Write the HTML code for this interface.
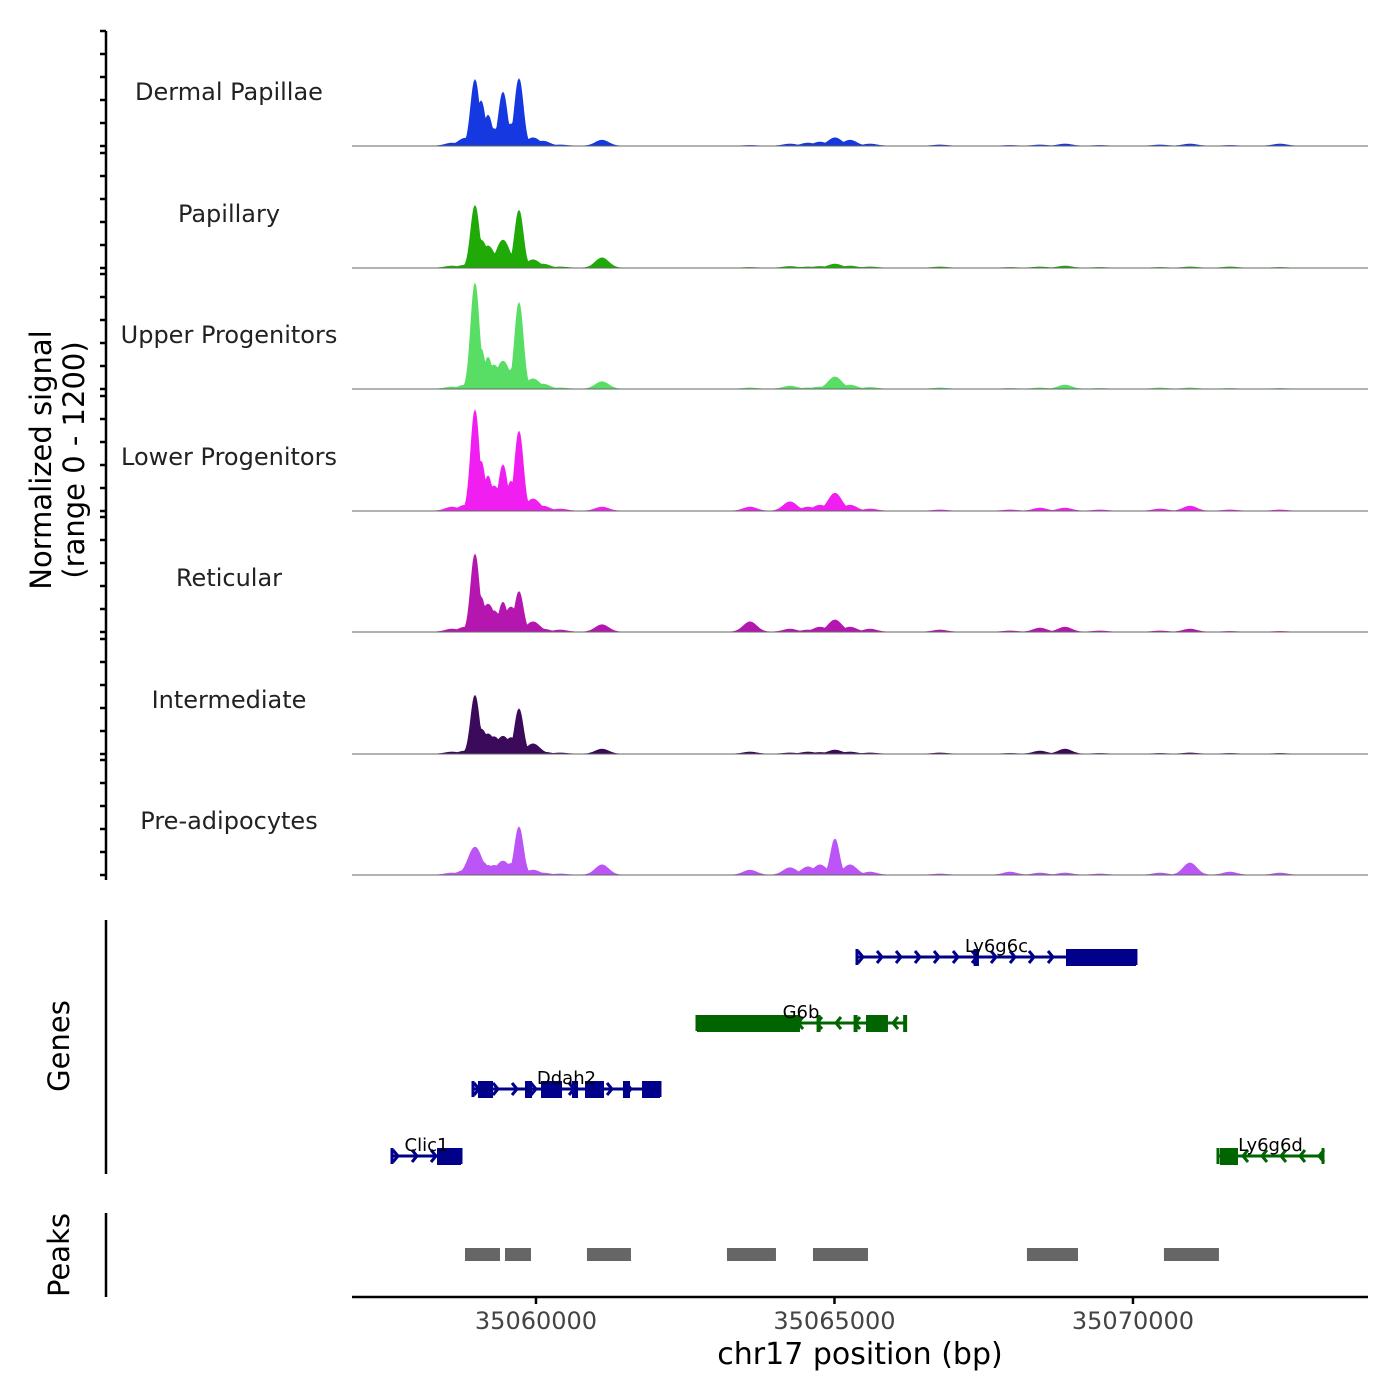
<!DOCTYPE html>
<html><head><meta charset="utf-8"><style>
html,body{margin:0;padding:0;background:#fff}
svg{display:block;font-family:"DejaVu Sans","Liberation Sans",sans-serif}
</style></head><body>
<svg id="chart" width="1400" height="1400" viewBox="0 0 1400 1400" xmlns="http://www.w3.org/2000/svg"></svg>
<script>
// ---------- data ----------
const trackNames = ["Dermal Papillae","Papillary","Upper Progenitors","Lower Progenitors","Reticular","Intermediate","Pre-adipocytes"];
const trackColors = ["#1538e0","#1faa08","#58de64","#f01ef0","#b516b0","#3b0a5a","#bb55f6"];
const peakCenters = [35058593,35058811,35058978,35059079,35059196,35059296,35059447,35059581,35059715,35059950,35060117,35060402,35061106,35063585,35064255,35064556,35064757,35065008,35065260,35065595,35066767,35067940,35068442,35068861,35069447,35070452,35070955,35071625,35072462];
const sigDermal  = [30,80,690,470,320,180,560,230,700,85,50,10,60,5,20,30,40,85,60,20,10,5,10,20,5,10,20,5,20];
const sigPapill  = [20,30,650,290,230,150,290,150,600,85,40,10,105,5,15,10,15,40,20,10,10,5,10,20,5,5,10,10,5];
const sigUpper   = [20,40,1100,420,330,250,290,200,900,105,50,10,75,10,30,10,20,125,40,15,10,5,10,40,5,10,10,5,5];
const sigLower   = [40,60,1050,520,365,260,480,310,830,125,50,20,40,40,95,40,60,185,60,20,10,10,30,30,10,20,50,10,10];
const sigRetic   = [30,50,810,365,290,220,310,260,420,105,30,20,75,105,30,20,50,125,50,30,20,10,40,50,10,10,30,5,5];
const sigInter   = [20,30,610,260,210,180,185,170,470,105,20,10,50,20,10,20,15,40,20,10,10,5,30,50,5,5,10,5,5];
const sigPreadip = [20,50,290,145,100,100,145,120,500,50,20,10,105,50,75,85,105,375,105,30,10,30,20,20,10,20,125,30,20];
const trackSignals = [sigDermal,sigPapill,sigUpper,sigLower,sigRetic,sigInter,sigPreadip];
const xTicks = [35060000,35065000,35070000];
const xTickLabels = ["35060000","35065000","35070000"];
const genes = ["Ly6g6c","G6b","Ddah2","Clic1","Ly6g6d"];
const geneStart = [35065377,35062697,35058945,35057588,35071424];
const geneEnd   = [35070050,35066181,35062077,35058744,35073183];
const geneStrand = [1,-1,1,1,-1];
const geneRow = [0,1,2,3,3];
const geneExons = [
  [[35067330,35067420],[35068878,35070050]],
  [[35062697,35064422],[35064700,35064760],[35065320,35065380],[35065528,35065896],[35066150,35066181]],
  [[35059028,35059280],[35059816,35059933],[35060084,35060436],[35060603,35060704],[35060821,35061139],[35061457,35061575],[35061776,35062077]],
  [[35058342,35058744]],
  [[35071457,35071759]]
];
const peakStart = [35058811,35059481,35060854,35063199,35064640,35068224,35070519];
const peakEnd   = [35059397,35059916,35061591,35064020,35065561,35069079,35071440];

// ---------- scales ----------
const X0 = 352, X1 = 1368, BP0 = 35056918, BP1 = 35073937;
const xs = bp => X0 + (bp - BP0) / (BP1 - BP0) * (X1 - X0);
const baselines = [146,268,389,511,632,754,875];
const trackH = 115, maxVal = 1200;
const ys = (b, v) => b - v / maxVal * trackH;

const svg = document.getElementById('chart');
const NS = 'http://www.w3.org/2000/svg';
function mk(tag, attrs, parent) {
  const e = document.createElementNS(NS, tag);
  for (const k in attrs) e.setAttribute(k, attrs[k]);
  (parent || svg).appendChild(e);
  return e;
}

// ---------- left axis for tracks ----------
const axG = mk('g', {});


mk('line', {x1:106, y1:31, x2:106, y2:880, stroke:'#000', 'stroke-width':2.5}, axG);
baselines.forEach(b => {
  for (let k = 0; k <= 5; k++) {
    const y = b - k * trackH / 5;
    mk('line', {x1:100, y1:y, x2:106, y2:y, stroke:'#000', 'stroke-width':2.5}, axG);
  }
});
const yt = mk('text', {x:0, y:0, 'font-size':29, 'text-anchor':'middle', fill:'#000', transform:'translate(51,460) rotate(-90)'});


const t1 = mk('tspan', {x:0, dy:0}, yt); t1.textContent = 'Normalized signal';
const t2 = mk('tspan', {x:0, dy:33}, yt); t2.textContent = '(range 0 - 1200)';

// ---------- coverage tracks ----------
const sigma = 70; // bp, peak width for drawing
trackNames.forEach((name, ti) => {
  const b = baselines[ti];
  const g = mk('g', {});
  
  
  const lbl = mk('text', {x:229, y:b - 46, 'font-size':24, 'text-anchor':'middle', fill:'#222'}, g);
  
  
  lbl.textContent = name;
  const vals = trackSignals[ti];
  let d = 'M' + X0 + ',' + b;
  for (let px = X0; px <= X1; px += 1) {
    const bp = BP0 + (px - X0) / (X1 - X0) * (BP1 - BP0);
    let v = 0;
    for (let i = 0; i < peakCenters.length; i++) {
      const s = vals[i] > 300 ? sigma : sigma * 1.6;
      const dd = (bp - peakCenters[i]) / s;
      v = Math.max(v, vals[i] * Math.exp(-dd * dd / 2));
    }
    d += 'L' + px + ',' + ys(b, v).toFixed(2);
  }
  d += 'L' + X1 + ',' + b + 'Z';
  const area = mk('path', {d:d, fill:trackColors[ti], stroke:trackColors[ti], 'stroke-width':0.8}, g);
  
  
  mk('line', {x1:X0, y1:b, x2:X1, y2:b, stroke:'#666', 'stroke-width':1}, g);
});

// ---------- genes ----------
const gAx = mk('line', {x1:106, y1:920, x2:106, y2:1174, stroke:'#000', 'stroke-width':2.5});


const gt = mk('text', {x:0, y:0, 'font-size':29, 'text-anchor':'middle', fill:'#000', transform:'translate(69,1046) rotate(-90)'});


gt.textContent = 'Genes';
const rowY = [957,1023,1089,1156];
genes.forEach((gn, i) => {
  const col = geneStrand[i] > 0 ? '#00008b' : '#006400';
  const y = rowY[geneRow[i]];
  const g = mk('g', {});
  
  
  const xa = xs(geneStart[i]), xb = xs(geneEnd[i]);
  mk('line', {x1:xa, y1:y, x2:xb, y2:y, stroke:col, 'stroke-width':3}, g);
  for (let x = xa + 6; x < xb - 4; x += 19) {
    const dir = geneStrand[i];
    mk('polyline', {points:`${x - 5*dir},${y-6} ${x},${y} ${x - 5*dir},${y+6}`, fill:'none', stroke:col, 'stroke-width':3}, g);
  }
  mk('line', {x1:xa, y1:y-8, x2:xa, y2:y+8, stroke:col, 'stroke-width':3}, g);
  mk('line', {x1:xb, y1:y-8, x2:xb, y2:y+8, stroke:col, 'stroke-width':3}, g);
  geneExons[i].forEach(ex => {
    const ea = xs(ex[0]), eb = xs(ex[1]);
    mk('rect', {x:ea, y:y-8, width:Math.max(eb-ea, 4), height:17, fill:col}, g);
  });
  const t = mk('text', {x:(xa+xb)/2, y:y-5, 'font-size':18, 'text-anchor':'middle', fill:'#000'}, g);
  t.textContent = gn;
});

// ---------- peaks ----------
const pAx = mk('line', {x1:106, y1:1213, x2:106, y2:1297, stroke:'#000', 'stroke-width':2.5});


const pt = mk('text', {x:0, y:0, 'font-size':29, 'text-anchor':'middle', fill:'#000', transform:'translate(69,1255) rotate(-90)'});


pt.textContent = 'Peaks';
peakStart.forEach((s, i) => {
  const r = mk('rect', {x:xs(s), y:1248, width:xs(peakEnd[i]) - xs(s), height:13, fill:'#666'});
  
  
});

// ---------- x axis ----------
const xa = mk('g', {});


mk('line', {x1:X0, y1:1297, x2:X1, y2:1297, stroke:'#000', 'stroke-width':2.5}, xa);
xTicks.forEach((v, i) => {
  const x = xs(v);
  mk('line', {x1:x, y1:1297, x2:x, y2:1304, stroke:'#000', 'stroke-width':2.5}, xa);
  const t = mk('text', {x:x, y:1329, 'font-size':24, 'text-anchor':'middle', fill:'#444'}, xa);
  t.textContent = xTickLabels[i];
});
const xt = mk('text', {x:860, y:1364, 'font-size':30, 'text-anchor':'middle', fill:'#000'});


xt.textContent = 'chr17 position (bp)';
</script>
</body></html>
